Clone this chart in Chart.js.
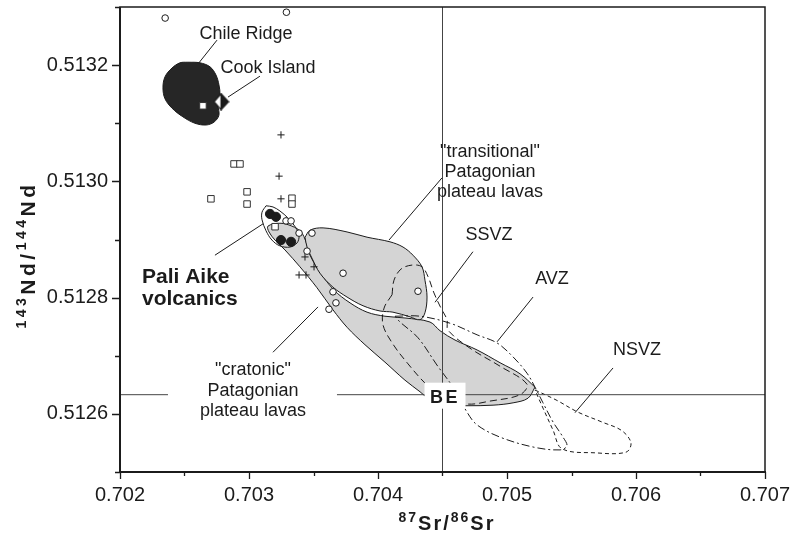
<!DOCTYPE html>
<html>
<head>
<meta charset="utf-8">
<script src="https://cdn.jsdelivr.net/npm/chart.js@4.4.1/dist/chart.umd.min.js"></script>
<style>
  html, body { margin: 0; background: #fff; }
  #wrap { width: 791px; height: 537px; }
</style>
</head>
<body>
<div id="wrap"><canvas id="c" width="791" height="537"></canvas></div>
<script>
// axis ranges (87Sr/86Sr vs 143Nd/144Nd)
const xMin = 0.702, xMax = 0.707, xStep = 0.0005;
const yMin = 0.5125, yMax = 0.5133, yStep = 0.0001;

// Bulk Earth reference lines
const beSr = 0.7045;
const beNd = 0.512633;
const beLineSegX = [[0.702, 0.702372], [0.703682, 0.707]];

// fields (outlines)
const chileX = [0.702527,0.702620,0.702698,0.702744,0.702767,0.702775,0.702760,0.702767,0.702729,0.702667,0.702581,0.702488,0.702403,0.702349,0.702333,0.702349,0.702403,0.702465,0.702527];
const chileY = [0.513205,0.513204,0.513197,0.513183,0.513166,0.513149,0.513131,0.513114,0.513102,0.513097,0.513100,0.513111,0.513126,0.513142,0.513161,0.513180,0.513195,0.513204,0.513205];

const paliX = [0.703132,0.703186,0.703240,0.703302,0.703364,0.703388,0.703372,0.703318,0.703240,0.703178,0.703132,0.703101,0.703101,0.703132];
const paliY = [0.512958,0.512956,0.512949,0.512937,0.512920,0.512906,0.512894,0.512887,0.512889,0.512899,0.512915,0.512934,0.512947,0.512958];

const cratX = [0.705217,0.705163,0.705047,0.704892,0.704690,0.704519,0.704388,0.704326,0.704209,0.704054,0.703899,0.703760,0.703651,0.703527,0.703395,0.703279,0.703202,0.703155,0.703147,0.703240,0.703333,0.703403,0.703442,0.703473,0.703550,0.703659,0.703783,0.703915,0.704054,0.704209,0.704403,0.704481,0.704597,0.704768,0.704946,0.705101,0.705217];
const cratY = [0.512646,0.512627,0.512619,0.512615,0.512614,0.512615,0.512627,0.512638,0.512658,0.512689,0.512719,0.512749,0.512779,0.512817,0.512853,0.512882,0.512899,0.512913,0.512923,0.512928,0.512923,0.512913,0.512896,0.512873,0.512844,0.512813,0.512791,0.512775,0.512768,0.512765,0.512758,0.512743,0.512727,0.512710,0.512688,0.512669,0.512646];

const transX = [0.703434,0.703473,0.703574,0.703760,0.703915,0.704093,0.704194,0.704271,0.704341,0.704364,0.704380,0.704364,0.704326,0.704248,0.704116,0.704016,0.703884,0.703760,0.703651,0.703550,0.703488,0.703450,0.703434];
const transY = [0.512904,0.512916,0.512920,0.512913,0.512904,0.512896,0.512887,0.512873,0.512853,0.512830,0.512801,0.512774,0.512762,0.512767,0.512775,0.512777,0.512786,0.512801,0.512818,0.512842,0.512868,0.512887,0.512904];

const ssvzX = [0.704109,0.704124,0.704178,0.704264,0.704341,0.704388,0.704434,0.704488,0.704535,0.704543,0.704713,0.704946,0.705155,0.705101,0.704868,0.704690,0.704481,0.704364,0.704233,0.704116,0.704039,0.704047,0.704109];
const ssvzY = [0.512805,0.512830,0.512849,0.512856,0.512853,0.512836,0.512808,0.512782,0.512762,0.512744,0.512713,0.512682,0.512651,0.512633,0.512622,0.512617,0.512631,0.512653,0.512686,0.512720,0.512753,0.512782,0.512805];

const avzX = [0.704132,0.704326,0.704558,0.704768,0.704923,0.705047,0.705155,0.705217,0.705279,0.705357,0.705434,0.705465,0.705411,0.705202,0.704946,0.704768,0.704690,0.704597,0.704457,0.704310,0.704171,0.704132];
const avzY = [0.512768,0.512768,0.512756,0.512736,0.512722,0.512698,0.512670,0.512646,0.512619,0.512586,0.512560,0.512545,0.512538,0.512543,0.512560,0.512581,0.512603,0.512641,0.512684,0.512731,0.512758,0.512768];

const nsvzX = [0.705217,0.705380,0.705550,0.705736,0.705891,0.705961,0.705922,0.705682,0.705426,0.705357,0.705279,0.705217];
const nsvzY = [0.512641,0.512624,0.512603,0.512586,0.512571,0.512550,0.512534,0.512533,0.512540,0.512572,0.512610,0.512641];

// samples
const openX = [0.70235,0.70329,0.703287,0.703326,0.703388,0.703488,0.703450,0.703729,0.703651,0.703674,0.703620,0.704310];
const openY = [0.513281,0.513291,0.512932,0.512932,0.512911,0.512911,0.512880,0.512842,0.512810,0.512791,0.512780,0.512811];
const solidX = [0.703163,0.703209,0.703248,0.703326];
const solidY = [0.512944,0.512939,0.512899,0.512896];
const squareX = [0.702705,0.702985,0.702985,0.702884,0.702930,0.703333,0.703333,0.703202,0.702643];
const squareY = [0.512970,0.512982,0.512961,0.513030,0.513030,0.512971,0.512961,0.512922,0.513130];
const plusX = [0.703248,0.703233,0.703248,0.703434,0.703504,0.703388,0.703442];
const plusY = [0.513080,0.513009,0.512970,0.512870,0.512853,0.512839,0.512839];
const cookX = [0.702783];
const cookY = [0.513137];

// leader lines [x0,x1] / [y0,y1]
const leaderX = [[0.702752,0.702612],[0.703085,0.702837],[0.702736,0.703109],[0.703186,0.703535],[0.704496,0.704085],[0.704736,0.704442],[0.705202,0.704923],[0.705822,0.705527]];
const leaderY = [[0.513243,0.513204],[0.513181,0.513145],[0.512873,0.512927],[0.512706,0.512784],[0.513006,0.512899],[0.512879,0.512792],[0.512801,0.512724],[0.512679,0.512602]];

const FONT = '"Liberation Sans", Arial, Helvetica, sans-serif';
const ink = '#1b1b1b';
const fieldGrey = '#d4d4d4';

const pts = (xs, ys) => xs.map((x, i) => ({ x, y: ys[i] }));
const isMajorX = v => Math.abs(Math.round(v * 1000) - v * 1000) < 1e-6;
const isMajorY = v => Math.round(v * 10000) % 2 === 0;

function cookMarker() {
  const c = document.createElement('canvas');
  c.width = 17; c.height = 18;
  const g = c.getContext('2d');
  g.lineWidth = 1.2; g.strokeStyle = ink;
  g.beginPath(); g.moveTo(8.5, 1); g.lineTo(16, 9); g.lineTo(8.5, 17); g.closePath();
  g.fillStyle = ink; g.fill(); g.stroke();
  g.beginPath(); g.moveTo(8.5, 1); g.lineTo(1.5, 9); g.lineTo(8.5, 17); g.closePath();
  g.fillStyle = '#fff'; g.fill(); g.stroke();
  return c;
}

function outline(label, xs, ys, extra) {
  return Object.assign({
    type: 'line', label, data: pts(xs, ys),
    pointRadius: 0, borderColor: ink, borderWidth: 1,
    tension: 0.35, fill: false
  }, extra);
}

const datasets = [
  outline('cratonic', cratX, cratY, { fill: 'shape', backgroundColor: fieldGrey, order: 20 }),
  outline('transitional', transX, transY, { fill: 'shape', backgroundColor: fieldGrey, order: 19 }),
  outline('Pali Aike', paliX, paliY, { order: 18 }),
  outline('SSVZ', ssvzX, ssvzY, { borderDash: [7, 4], order: 17 }),
  outline('AVZ', avzX, avzY, { borderDash: [8, 3, 2, 3], order: 17 }),
  outline('NSVZ', nsvzX, nsvzY, { borderDash: [4, 3], order: 17 }),
  outline('Chile Ridge', chileX, chileY, { fill: 'shape', backgroundColor: '#262626', order: 15 }),
  { type: 'line', label: 'BE Sr', data: pts([beSr, beSr], [yMin, yMax]), pointRadius: 0,
    borderColor: '#444', borderWidth: 1, order: 16 }
];
beLineSegX.forEach(s => datasets.push({ type: 'line', label: 'BE Nd', data: pts(s, [beNd, beNd]),
  pointRadius: 0, borderColor: '#444', borderWidth: 1, order: 16 }));
leaderX.forEach((lx, i) => datasets.push({ type: 'line', label: 'leader', data: pts(lx, leaderY[i]),
  pointRadius: 0, borderColor: ink, borderWidth: 1, order: 10 }));
datasets.push(
  { label: 'open circles', data: pts(openX, openY), pointStyle: 'circle', pointRadius: 3.3,
    backgroundColor: '#fff', borderColor: ink, borderWidth: 1, order: 3 },
  { label: 'Pali Aike', data: pts(solidX, solidY), pointStyle: 'circle', pointRadius: 4.6,
    backgroundColor: ink, borderColor: ink, borderWidth: 1, order: 2 },
  { label: 'squares', data: pts(squareX, squareY), pointStyle: 'rect', pointRadius: 4.6,
    backgroundColor: '#fff', borderColor: '#333', borderWidth: 1, order: 3 },
  { label: 'crosses', data: pts(plusX, plusY), pointStyle: 'cross', pointRadius: 3.6,
    borderColor: ink, borderWidth: 1, order: 3 },
  { label: 'Cook Island', data: pts(cookX, cookY), pointStyle: cookMarker(), order: 1 }
);

// text on the plot (pixel positions, baseline)
const notes = [
  ['Chile Ridge', 246, 39, 18, false, 'center'],
  ['Cook Island', 268, 73, 18, false, 'center'],
  ['Pali Aike', 142, 283, 21, true, 'left'],
  ['volcanics', 142, 305, 21, true, 'left'],
  ['"cratonic"', 253, 375, 18, false, 'center'],
  ['Patagonian', 253, 396, 18, false, 'center'],
  ['plateau lavas', 253, 416, 18, false, 'center'],
  ['"transitional"', 490, 157, 18, false, 'center'],
  ['Patagonian', 490, 177, 18, false, 'center'],
  ['plateau lavas', 490, 197, 18, false, 'center'],
  ['SSVZ', 489, 240, 18, false, 'center'],
  ['AVZ', 552, 284, 18, false, 'center'],
  ['NSVZ', 637, 355, 18, false, 'center']
];

function drawRich(ctx, parts, cx, cy, size, rot, track) {
  ctx.save();
  ctx.translate(cx, cy);
  ctx.rotate(rot);
  const supSize = Math.round(size * 0.68);
  let w = 0;
  parts.forEach(([t, sup]) => {
    ctx.font = `bold ${sup ? supSize : size}px ${FONT}`;
    for (const ch of t) w += ctx.measureText(ch).width + track;
  });
  let x = -w / 2;
  ctx.fillStyle = ink; ctx.textAlign = 'left'; ctx.textBaseline = 'alphabetic';
  parts.forEach(([t, sup]) => {
    ctx.font = `bold ${sup ? supSize : size}px ${FONT}`;
    const dy = sup ? -size * 0.42 : 0;
    for (const ch of t) {
      ctx.fillText(ch, x, size * 0.36 + dy);
      x += ctx.measureText(ch).width + track;
    }
  });
  ctx.restore();
}

const decor = {
  id: 'decor',
  afterDatasetsDraw(chart) {
    const ctx = chart.ctx;
    const xs = chart.scales.x, ys = chart.scales.y;
    // BE label box
    const bx = xs.getPixelForValue(beSr), by = ys.getPixelForValue(beNd);
    ctx.save();
    ctx.fillStyle = '#fff';
    ctx.fillRect(bx - 18, by - 12, 41, 26);
    ctx.fillStyle = ink;
    ctx.font = `bold 18px ${FONT}`;
    ctx.textAlign = 'center'; ctx.textBaseline = 'alphabetic';
    ctx.fillText('B', bx - 6, by + 8);
    ctx.fillText('E', bx + 9, by + 8);
    notes.forEach(([t, x, y, s, b, a]) => {
      ctx.font = `${b ? 'bold ' : ''}${s}px ${FONT}`;
      ctx.textAlign = a;
      ctx.fillText(t, x, y);
    });
    ctx.restore();
  },
  afterDraw(chart) {
    const ctx = chart.ctx;
    const { left, right, top, bottom } = chart.chartArea;
    const xs = chart.scales.x, ys = chart.scales.y;
    ctx.save();
    ctx.strokeStyle = ink;
    ctx.lineWidth = 1.5;
    ctx.strokeRect(left, top, right - left, bottom - top);
    ctx.lineWidth = 2;
    ctx.beginPath();
    ctx.moveTo(left, top); ctx.lineTo(left, bottom); ctx.lineTo(right + 1, bottom);
    ctx.stroke();
    ctx.lineWidth = 1.3;
    ctx.beginPath();
    ys.ticks.forEach(t => {
      const p = Math.round(ys.getPixelForValue(t.value)) + 0.5;
      const len = isMajorY(t.value) ? 8 : 5;
      ctx.moveTo(left - len, p); ctx.lineTo(left, p);
    });
    xs.ticks.forEach(t => {
      const p = Math.round(xs.getPixelForValue(t.value)) + 0.5;
      const len = isMajorX(t.value) ? 7 : 4;
      ctx.moveTo(p, bottom); ctx.lineTo(p, bottom + len);
    });
    ctx.stroke();
    ctx.restore();
    drawRich(ctx, [['143', true], ['Nd', false], ['/', false], ['144', true], ['Nd', false]], 27, 255, 21, -Math.PI / 2, 3.5);
    drawRich(ctx, [['87', true], ['Sr', false], ['/', false], ['86', true], ['Sr', false]], 447, 523, 20, 0, 2);
  }
};

new Chart(document.getElementById('c'), {
  type: 'scatter',
  data: { datasets },
  options: {
    responsive: false,
    animation: false,
    events: [],
    layout: { padding: { left: 0, top: 7, right: 26, bottom: 0 } },
    plugins: { legend: { display: false }, tooltip: { enabled: false } },
    scales: {
      x: {
        type: 'linear', min: xMin, max: xMax,
        afterFit: s => { s.height = 65; s.paddingLeft = 0; s.paddingRight = 0; },
        grid: { display: false, tickLength: 8 }, border: { display: false },
        ticks: {
          stepSize: xStep, autoSkip: false, maxRotation: 0, padding: 3,
          color: ink, font: { family: FONT, size: 20 },
          callback: v => isMajorX(v) ? v.toFixed(3) : ''
        }
      },
      y: {
        type: 'linear', min: yMin, max: yMax,
        afterFit: s => { s.width = 120; s.paddingTop = 0; s.paddingBottom = 0; },
        grid: { display: false, tickLength: 8 }, border: { display: false },
        ticks: {
          stepSize: yStep, autoSkip: false, padding: 4,
          color: ink, font: { family: FONT, size: 20 },
          callback: v => isMajorY(v) ? v.toFixed(4) : ''
        }
      }
    }
  },
  plugins: [decor]
});
</script>
</body>
</html>
